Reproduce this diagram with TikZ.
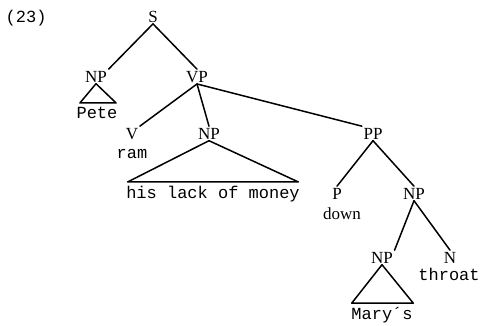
\documentclass[tikz,border=0pt]{standalone}
\usepackage{fontspec}
\setmainfont{Liberation Serif}
\newfontfamily\wordfont{Liberation Mono}
\begin{document}
\begin{tikzpicture}[x=1pt,y=-1pt,
  cat/.style={font=\fontsize{17}{19}\selectfont, anchor=base, inner sep=1.5pt},
  word/.style={font=\fontsize{17}{19}\selectfont\wordfont, anchor=base, inner sep=1.5pt},
  edge/.style={line width=1.5pt, line cap=round, line join=round}]
\useasboundingbox (0,0) rectangle (486,325);
\node[word, anchor=base west] (ex) at (4,22) {(23)};
\node[cat] (s) at (153,22) {S};
\node[cat] (np1) at (96,82) {NP};
\node[cat] (vp) at (197,82) {VP};
\node[word] (pete) at (97,118) {Pete};
\node[cat] (v) at (132,139) {V};
\node[word] (ram) at (132,158) {ram};
\node[cat] (np2) at (209,139) {NP};
\node[word] (hlm) at (213,198) {his lack of money};
\node[cat] (pp) at (373,139) {PP};
\node[cat] (p) at (337,199) {P};
\node[cat] (down) at (342,219) {down};
\node[cat] (np3) at (414,199) {NP};
\node[cat] (np4) at (382,263) {NP};
\node[cat] (n) at (450,263) {N};
\node[word] (throat) at (449,280) {throat};
\node[word] (marys) at (382,319) {Mary´s};
\draw[edge] (s.south) -- (np1.north east);
\draw[edge] (s.south) -- (vp.north);
\draw[edge] (vp.south) -- (v.north east);
\draw[edge] (vp.south) -- (np2.north);
\draw[edge] (vp.south) -- (pp.north west);
\draw[edge] (pp.south) -- (p.north);
\draw[edge] (pp.south) -- (np3.north);
\draw[edge] (np3.south) -- (np4.north east);
\draw[edge] (np3.south) -- (n.north);
\draw[edge] (np1.south) -- ([xshift=-3pt,yshift=2pt]pete.north east) -- ([xshift=5pt,yshift=2pt]pete.north west) -- cycle;
\draw[edge] (np2.south) -- ([xshift=-3pt,yshift=2pt]hlm.north east) -- ([xshift=3pt,yshift=2pt]hlm.north west) -- cycle;
\draw[edge] (np4.south) -- ([xshift=-1pt,yshift=2pt]marys.north east) -- ([xshift=2pt,yshift=2pt]marys.north west) -- cycle;
\end{tikzpicture}
\end{document}
